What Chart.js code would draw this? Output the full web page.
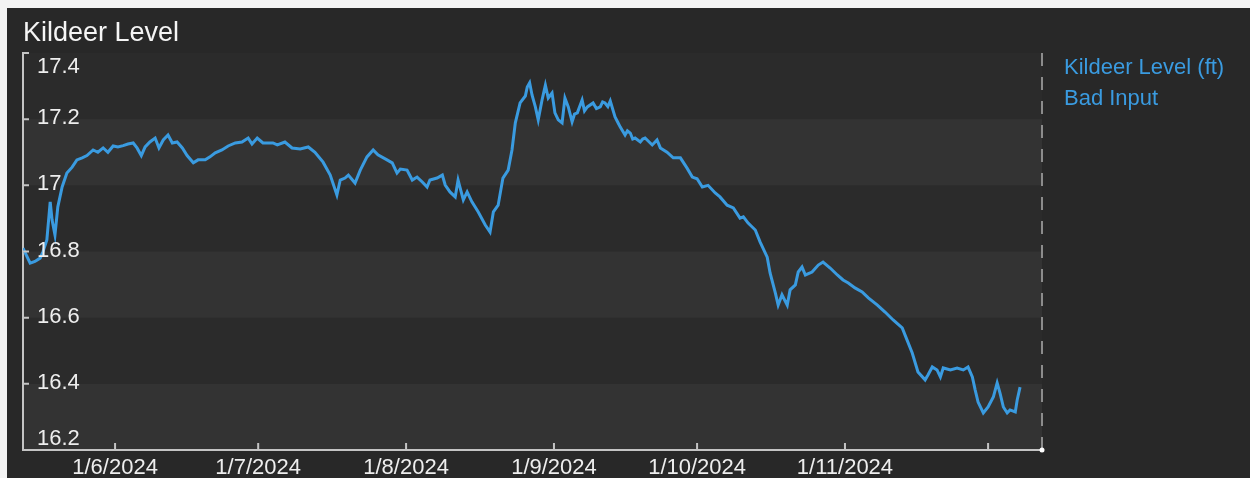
<!DOCTYPE html>
<html lang="en">

<head>
    <meta charset="UTF-8">
    <title>Kildeer Level</title>

    <script src="https://cdn.jsdelivr.net/npm/chart.js"></script>

    <style>
        body {
            margin: 0;
            background: #f3f3f3;
            overflow: hidden;
        }

        .painel {
            position: absolute;
            left: 7px;
            top: 8px;
            width: 1243px;
            height: 470px;
            background: #282828;
        }
    </style>
</head>

<body>
    <div class="painel">
        <canvas id="chartNivel"></canvas>
    </div>

<script>
    const DAY = 86400000;
    const JUN1 = Date.UTC(2024, 5, 1);

    // readings: days counted from 1 Jun 2024, level in ft
    const daysSinceJun1 = [
        -19.3, -17.8, -16.8, -15.7, -15.1, -14.3, -13.6, -13.2, -12.6, -12.0,
        -11.1, -10.1, -9.0, -8.0, -6.9, -5.9, -4.6, -3.6, -2.5, -1.5,
        -0.4, 0.6, 1.7, 2.7, 3.8, 4.6, 5.5, 6.3, 7.3, 8.4,
        9.2, 10.1, 11.1, 12.0, 13.0, 14.1, 15.1, 16.4, 17.4, 18.9,
        19.9, 21.0, 22.4, 23.7, 25.2, 26.6, 27.9, 28.7, 29.8, 31.0,
        32.1, 33.1, 34.0, 35.6, 37.1, 38.8, 40.5, 41.9, 43.6, 45.1,
        46.5, 47.2, 48.2, 48.9, 50.3, 51.4, 52.8, 54.1, 55.1, 57.0,
        58.1, 59.1, 59.8, 61.2, 62.3, 63.3, 64.4, 65.4, 66.0, 67.5,
        68.6, 69.2, 70.2, 71.3, 71.9, 73.0, 73.8, 74.8, 76.1, 77.6,
        78.6, 79.3, 80.3, 81.3, 82.4, 83.2, 83.9, 84.9, 86.0, 86.4, 86.9, 87.4,
        88.1, 88.7, 89.5, 90.2, 90.8, 91.6, 92.2, 92.9, 93.7, 94.3,
        95.0, 95.8, 96.3, 96.9, 97.9, 98.4, 99.0, 100.2, 100.9, 101.7, 102.2, 102.7, 103.3, 103.8, 104.8,
        105.4, 105.9, 106.9, 107.4, 108.0, 108.5, 109.0, 110.1, 110.6, 111.1, 112.6, 113.6, 114.3, 115.7,
        117.0, 118.5, 119.9, 121.0, 122.0, 123.1, 124.3, 125.8, 126.8, 128.3,
        129.6, 131.0, 131.7, 132.7, 134.2, 135.2, 136.7, 137.3, 138.4, 139.0,
        139.8, 140.9, 141.5, 142.6, 143.2, 144.0, 144.7, 146.1, 147.4, 148.4,
        149.9, 151.4, 152.6, 153.7, 155.1, 156.6, 157.9, 159.8, 161.4, 163.1,
        165.0, 166.0, 167.1, 168.3, 169.8, 170.4, 171.3, 172.3, 173.0, 173.6,
        175.1, 176.5, 177.8, 178.8, 179.7, 180.3, 180.9, 182.0, 183.0, 184.1,
        184.9, 185.5, 186.2, 187.0, 187.6, 188.7, 189.1, 189.7
    ];

    const levels = [
        16.81, 16.765, 16.77, 16.78, 16.80, 16.835, 16.95, 16.895, 16.85, 16.935,
        16.995, 17.037, 17.055, 17.077, 17.083, 17.09, 17.107, 17.10, 17.113, 17.10,
        17.119, 17.116, 17.12, 17.125, 17.128, 17.113, 17.09, 17.116, 17.131, 17.143,
        17.113, 17.137, 17.152, 17.128, 17.131, 17.113, 17.09, 17.068, 17.077, 17.077,
        17.086, 17.098, 17.107, 17.119, 17.128, 17.131, 17.143, 17.125, 17.143, 17.128,
        17.128, 17.128, 17.122, 17.131, 17.113, 17.11, 17.116, 17.10, 17.07, 17.031,
        16.971, 17.016, 17.022, 17.031, 17.007, 17.046, 17.086, 17.107, 17.092, 17.077,
        17.068, 17.037, 17.049, 17.046, 17.016, 17.025, 17.01, 16.995, 17.016, 17.022,
        17.031, 17.001, 16.98, 16.965, 17.016, 16.956, 16.98, 16.95, 16.92, 16.88,
        16.859, 16.92, 16.94, 17.022, 17.046, 17.107, 17.189, 17.249, 17.27, 17.297, 17.31, 17.273,
        17.237, 17.198, 17.258, 17.303, 17.264, 17.279, 17.219, 17.198, 17.189, 17.264,
        17.237, 17.192, 17.215, 17.219, 17.258, 17.225, 17.237, 17.249, 17.232, 17.237, 17.252, 17.249, 17.238, 17.255, 17.207,
        17.19, 17.176, 17.152, 17.165, 17.158, 17.14, 17.143, 17.131, 17.14, 17.143, 17.122, 17.137, 17.113, 17.10,
        17.083, 17.083, 17.052, 17.025, 17.02, 16.995, 17.00, 16.977, 16.965, 16.94,
        16.932, 16.901, 16.905, 16.886, 16.865, 16.829, 16.783, 16.735, 16.675, 16.638,
        16.669, 16.638, 16.684, 16.699, 16.738, 16.753, 16.729, 16.738, 16.759, 16.768,
        16.75, 16.729, 16.714, 16.705, 16.69, 16.678, 16.66, 16.638, 16.617, 16.593,
        16.569, 16.533, 16.493, 16.436, 16.412, 16.427, 16.451, 16.442, 16.421, 16.448,
        16.442, 16.448, 16.442, 16.451, 16.421, 16.381, 16.345, 16.312, 16.33, 16.36,
        16.403, 16.372, 16.33, 16.312, 16.321, 16.315, 16.351, 16.39
    ];

    const seriesLabels = ['Kildeer Level (ft)', 'Bad Input'];

    const xTickDates = ['2024-06-01', '2024-07-01', '2024-08-01', '2024-09-01', '2024-10-01', '2024-11-01', '2024-12-01'];
    const xTickLabels = ['1/6/2024', '1/7/2024', '1/8/2024', '1/9/2024', '1/10/2024', '1/11/2024', ''];
    const yTicks = [16.2, 16.4, 16.6, 16.8, 17, 17.2, 17.4];
    const xRangeDays = [-19.3, 194.3];

    const FONTE = '"Liberation Sans", Arial, sans-serif';
    const AZUL = '#3a9be0';
    const EIXO = '#c4c4c4';

    // faixas, marcas de escala, rótulos do eixo y e legenda
    const decoracao = {
        id: 'decoracao',
        beforeDraw(chart) {
            const { ctx, chartArea: a, scales: { y } } = chart;
            ctx.save();
            ctx.fillStyle = '#2b2b2b';
            ctx.fillRect(a.left, a.top, a.width, a.height);
            ctx.fillStyle = '#333333';
            for (let i = 0; i < yTicks.length - 1; i += 2) {
                const y0 = y.getPixelForValue(yTicks[i]);
                const y1 = y.getPixelForValue(yTicks[i + 1]);
                ctx.fillRect(a.left, y1, a.width, y0 - y1);
            }
            ctx.restore();
        },
        afterDraw(chart) {
            const { ctx, chartArea: a, scales: { x, y } } = chart;
            ctx.save();

            // linha tracejada da direita
            ctx.strokeStyle = '#8c8c8c';
            ctx.lineWidth = 2;
            ctx.setLineDash([13, 11]);
            ctx.beginPath();
            ctx.moveTo(a.right, a.top);
            ctx.lineTo(a.right, a.bottom);
            ctx.stroke();
            ctx.setLineDash([]);

            // marcas para dentro
            ctx.strokeStyle = EIXO;
            ctx.beginPath();
            y.ticks.forEach(t => {
                const py = y.getPixelForValue(t.value);
                ctx.moveTo(a.left, py);
                ctx.lineTo(a.left + 6, py);
            });
            x.ticks.forEach(t => {
                const px = x.getPixelForValue(t.value);
                ctx.moveTo(px, a.bottom);
                ctx.lineTo(px, a.bottom - 7);
            });
            ctx.stroke();

            ctx.fillStyle = '#ffffff';
            ctx.beginPath();
            ctx.arc(a.right, a.bottom, 2.5, 0, Math.PI * 2);
            ctx.fill();

            // rótulos do eixo y
            ctx.font = '22px ' + FONTE;
            ctx.fillStyle = '#eeeeee';
            ctx.textAlign = 'left';
            ctx.textBaseline = 'middle';
            const n = y.ticks.length;
            y.ticks.forEach((t, i) => {
                let py = y.getPixelForValue(t.value) - 1;
                if (i === n - 1) py += 15;
                if (i === 0) py -= 10;
                ctx.fillText(String(parseFloat(t.value.toFixed(1))), a.left + 14, py);
            });

            // legenda
            ctx.fillStyle = AZUL;
            chart.data.datasets.forEach((ds, i) => {
                ctx.fillText(ds.label, a.right + 22, a.top + 15 + i * 31);
            });

            ctx.restore();
        }
    };

    const pontos = daysSinceJun1.map((d, i) => ({ x: JUN1 + d * DAY, y: levels[i] }));

    const config = {
        type: 'line',
        data: {
            datasets: [{
                label: seriesLabels[0],
                data: pontos,
                borderColor: AZUL,
                borderWidth: 3,
                pointRadius: 0,
                tension: 0,
                fill: false
            }, {
                label: seriesLabels[1],
                data: [],
                borderColor: AZUL,
                pointRadius: 0
            }]
        },
        options: {
            responsive: true,
            maintainAspectRatio: false,
            animation: false,
            layout: {
                padding: { right: 208 }
            },
            plugins: {
                legend: { display: false },
                tooltip: { enabled: false },
                title: {
                    display: true,
                    text: 'Kildeer Level',
                    align: 'start',
                    fullSize: false,
                    color: '#f5f5f5',
                    font: { size: 27, family: FONTE, weight: 'normal' },
                    padding: { top: 9, bottom: 3.6 }
                }
            },
            scales: {
                x: {
                    type: 'linear',
                    min: JUN1 + xRangeDays[0] * DAY,
                    max: JUN1 + xRangeDays[1] * DAY,
                    afterBuildTicks: scale => {
                        scale.ticks = xTickDates.map(s => ({ value: Date.parse(s) }));
                    },
                    afterFit: scale => { scale.height = 28; },
                    grid: { display: false, drawTicks: false },
                    border: { display: true, color: EIXO, width: 2 },
                    ticks: {
                        autoSkip: false,
                        maxRotation: 0,
                        padding: 5,
                        color: '#eeeeee',
                        font: { size: 22, family: FONTE },
                        callback: (value, index) => xTickLabels[index]
                    }
                },
                y: {
                    min: yTicks[0],
                    max: yTicks[yTicks.length - 1],
                    afterBuildTicks: scale => {
                        scale.ticks = yTicks.map(v => ({ value: v }));
                    },
                    afterFit: scale => { scale.width = 16; },
                    grid: { display: false, drawTicks: false },
                    border: { display: true, color: EIXO, width: 2 },
                    ticks: { display: false }
                }
            }
        },
        plugins: [decoracao]
    };

    new Chart(document.getElementById('chartNivel').getContext('2d'), config);
</script>
</body>

</html>
